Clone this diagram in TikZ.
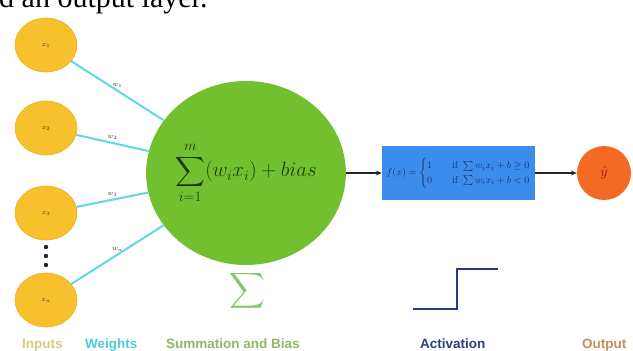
\documentclass[tikz,border=0pt]{standalone}
\usepackage{amsmath}
\usepackage{fontspec}
\newfontfamily\topfont{Liberation Serif}
\newfontfamily\labfont{Liberation Sans}
\usetikzlibrary{shapes.geometric,arrows.meta}
\definecolor{inyellow}{HTML}{F6C12C}
\definecolor{inedge}{HTML}{EBB12A}
\definecolor{wcyan}{HTML}{5ED8E2}
\definecolor{sgreen}{HTML}{72C02F}
\definecolor{fgreen}{HTML}{1E3A0C}
\definecolor{actblue}{HTML}{3A8DEA}
\definecolor{actText}{HTML}{1A2E6A}
\definecolor{outorange}{HTML}{F26A23}
\definecolor{outText}{HTML}{8E1B10}
\definecolor{navy}{HTML}{2C3A7C}
\definecolor{sigcol}{HTML}{8CC66A}
\definecolor{labIn}{HTML}{D6CC80}
\definecolor{labW}{HTML}{4ECBDA}
\definecolor{labS}{HTML}{8FB766}
\definecolor{labA}{HTML}{2B3F78}
\definecolor{labO}{HTML}{C98B5C}
\begin{document}
\begin{tikzpicture}[x=1pt,y=-1pt,
  inp/.style={ellipse, fill=inyellow, draw=inedge, line width=0.6pt,
    minimum width=62pt, minimum height=54pt, inner sep=0pt,
    font=\fontsize{7}{8}\selectfont, text=black!80},
  wline/.style={wcyan, line width=2pt},
  wlab/.style={font=\fontsize{7.5}{8}\selectfont, text=black!80, above=1pt, inner sep=1pt},
  arr/.style={black!85, line width=1.4pt, -{Stealth[length=6pt,width=5pt]}},
  lab/.style={anchor=base west, inner sep=0pt, font=\labfont\bfseries\fontsize{13.5}{14}\selectfont}]
\useasboundingbox (0,0) rectangle (633,351);
\clip (0,0) rectangle (633,351);
% top text (cut off)
\node[anchor=base west, inner sep=0pt, font=\topfont\fontsize{30}{30}\selectfont] (toptext) at (-1,7) {d an output layer.};
% inputs
\node[inp] (x1) at (46,45) {$x_1$};
\node[inp] (x2) at (46,128) {$x_2$};
\node[inp] (x3) at (46,213) {$x_3$};
\node[inp] (xn) at (46,300) {$x_n$};
\fill[black!85] (46,247) circle (2.2pt) (46,256) circle (2.2pt) (46,265) circle (2.2pt);
% summation
\node[ellipse, fill=sgreen, minimum width=182pt, minimum height=184pt, inner sep=0pt,
  text=fgreen, font=\fontsize{20}{24}\selectfont] (sum) at (246,173)
  {$\displaystyle\sum_{i=1}^{m}(w_ix_i)+bias$};
% weights
\draw[wline] (x1) -- node[wlab, pos=0.5] {$w_1$} (sum);
\draw[wline] (x2) -- node[wlab, pos=0.5] {$w_2$} (sum);
\draw[wline] (x3) -- node[wlab, pos=0.5] {$w_3$} (sum);
\draw[wline] (xn) -- node[wlab, pos=0.5] {$w_n$} (sum);
% activation
\node[fill=actblue, minimum width=153pt, minimum height=54pt, inner sep=0pt, text=actText] (act) at (458.5,173)
  {\resizebox{144pt}{!}{$f(x)=\begin{cases}1 & \quad\text{if } \sum w_ix_i+b\geq 0\\ 0 & \quad\text{if } \sum w_ix_i+b<0\end{cases}$}};
% output
\node[circle, fill=outorange, minimum size=54pt, inner sep=0pt, text=outText,
  font=\fontsize{14}{16}\selectfont] (out) at (604,173) {$\hat{y}$};
\draw[arr] (sum) -- (act);
\draw[arr] (act) -- (out);
% sigma icon
\node[text=sigcol, inner sep=0pt, font=\fontsize{31}{36}\selectfont] (sig) at (247,291) {$\displaystyle\sum$};
% step icon
\draw[navy, line width=2pt] (413,309) -- (457,309) -- (457,269) -- (498,269);
% labels
\node[lab, text=labIn] (lin) at (22,348) {Inputs};
\node[lab, text=labW] (lw) at (85,348) {Weights};
\node[lab, text=labS] (ls) at (166,348) {Summation and Bias};
\node[lab, text=labA] (la) at (420,348) {Activation};
\node[lab, text=labO] (lo) at (582,348) {Output};
\end{tikzpicture}
\end{document}
